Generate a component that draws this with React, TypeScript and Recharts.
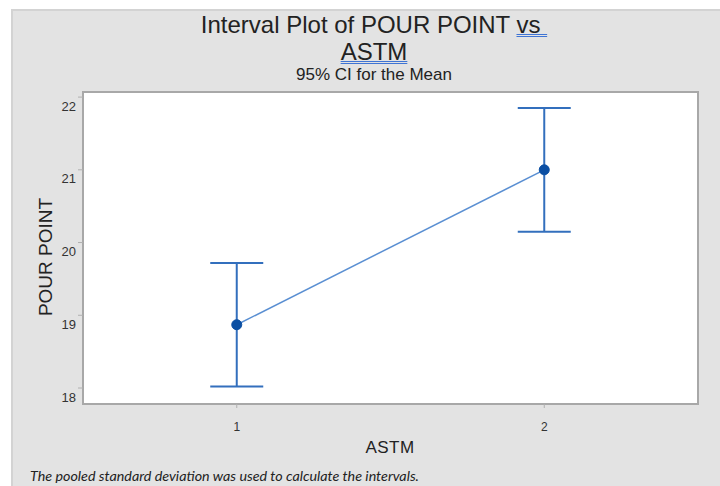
import { ComposedChart, Line, ErrorBar, XAxis, YAxis, ReferenceArea } from 'recharts';

const astmLevels = [1, 2];
const pourMean = [18.87, 21.0];
const ciLower = [18.02, 20.15];
const ciUpper = [19.72, 21.85];
const yTicks = [18, 19, 20, 21, 22];

const data = astmLevels.map((a, i) => ({
  astm: a,
  mean: pourMean[i],
  ci: [pourMean[i] - ciLower[i], ciUpper[i] - pourMean[i]],
}));

const FONT = '"Liberation Sans", Arial, sans-serif';

const YTick = ({ x, y, payload }: any) => (
  <text x={x} y={y + 9} textAnchor="end" dominantBaseline="central" fontSize={13} fill="#333" fontFamily={FONT}>
    {payload.value}
  </text>
);

const XTick = ({ x, y, payload }: any) => (
  <text x={x} y={y + 17} textAnchor="middle" dominantBaseline="central" fontSize={12} fill="#333" fontFamily={FONT}>
    {payload.value}
  </text>
);

const underline = {
  textDecorationLine: 'underline',
  textDecorationStyle: 'double',
  textDecorationColor: '#3f74d4',
  textDecorationThickness: '1px',
  textUnderlineOffset: '1px',
} as const;

export default function App() {
  return (
    <div style={{ position: 'absolute', left: 0, top: 0, width: 720, height: 486, background: '#fff', overflow: 'hidden' }}>
      <div
        style={{
          position: 'absolute',
          left: 11,
          top: 9,
          right: 0,
          bottom: 0,
          background: '#e3e3e3',
          borderTop: '2px solid #d3d3d3',
          borderLeft: '2px solid #d3d3d3',
        }}
      />
      <div style={{ position: 'absolute', left: 0, top: 0 }}>
        <ComposedChart width={720} height={486} data={data} margin={{ top: 92, right: 22, bottom: 0, left: 0 }}>
          <ReferenceArea x1={0.5} x2={2.5} y1={17.78} y2={22.07} fill="#fff" fillOpacity={1} stroke="#a8a8a8" strokeWidth={2} />
          <XAxis
            dataKey="astm"
            type="number"
            domain={[0.5, 2.5]}
            ticks={astmLevels}
            axisLine={false}
            tickLine={{ stroke: '#b0b0b0' }}
            tickSize={4}
            height={82}
            tick={<XTick />}
            allowDataOverflow
          />
          <YAxis
            type="number"
            domain={[17.78, 22.07]}
            ticks={yTicks}
            axisLine={false}
            tickLine={{ stroke: '#b0b0b0' }}
            tickSize={5}
            width={83}
            tick={<YTick />}
            allowDataOverflow
          />
          <Line
            dataKey="mean"
            stroke="#5a8fd2"
            strokeWidth={1.5}
            dot={{ r: 5, fill: '#0b4fa3', stroke: '#0b4fa3', strokeWidth: 1 }}
            activeDot={false}
            isAnimationActive={false}
          >
            <ErrorBar dataKey="ci" direction="y" width={26.5} stroke="#336fbd" strokeWidth={2} isAnimationActive={false} />
          </Line>
        </ComposedChart>
      </div>
      <div
        style={{
          position: 'absolute',
          left: 174,
          width: 400,
          top: 10.6,
          textAlign: 'center',
          fontFamily: FONT,
          fontSize: 24,
          lineHeight: '27px',
          color: '#222',
        }}
      >
        Interval Plot of POUR POINT <span style={underline}>vs&nbsp;</span>
        <br />
        <span style={underline}>ASTM</span>
      </div>
      <div
        style={{
          position: 'absolute',
          left: 174,
          width: 400,
          top: 64.7,
          textAlign: 'center',
          fontFamily: FONT,
          fontSize: 17,
          lineHeight: '20px',
          color: '#222',
        }}
      >
        95% CI for the Mean
      </div>
      <div
        style={{
          position: 'absolute',
          left: 45.5,
          top: 256.5,
          transform: 'translate(-50%, -50%) rotate(-90deg)',
          whiteSpace: 'nowrap',
          fontFamily: FONT,
          fontSize: 19,
          lineHeight: '22px',
          color: '#222',
        }}
      >
        POUR POINT
      </div>
      <div
        style={{
          position: 'absolute',
          left: 390,
          top: 448,
          transform: 'translate(-50%, -50%)',
          whiteSpace: 'nowrap',
          fontFamily: FONT,
          fontSize: 17,
          letterSpacing: 0.5,
          lineHeight: '20px',
          color: '#222',
        }}
      >
        ASTM
      </div>
      <div
        style={{
          position: 'absolute',
          left: 30,
          top: 467,
          whiteSpace: 'nowrap',
          fontFamily: 'Lato, sans-serif',
          fontStyle: 'italic',
          fontSize: 14.3,
          lineHeight: '17px',
          color: '#222',
        }}
      >
        The pooled standard deviation was used to calculate the intervals.
      </div>
    </div>
  );
}
